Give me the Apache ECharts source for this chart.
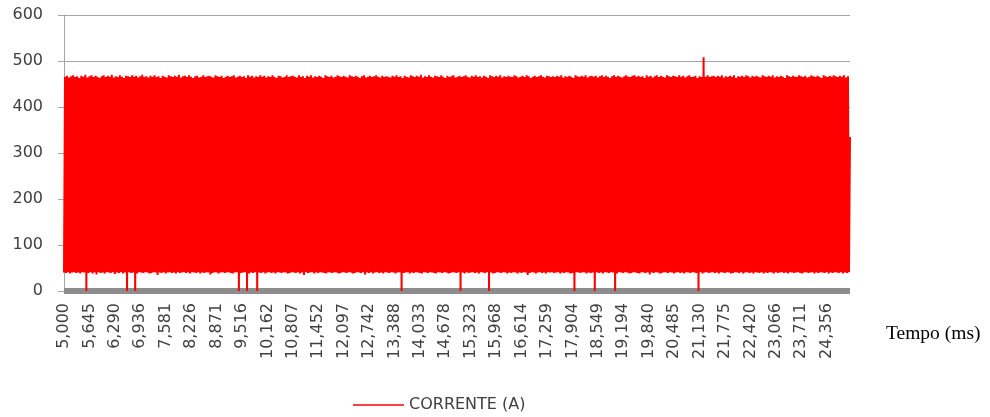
<!DOCTYPE html>
<html>
<head>
<meta charset="utf-8">
<script src="https://cdn.jsdelivr.net/npm/echarts@6/dist/echarts.min.js"></script>
<style>html,body{margin:0;padding:0;background:#fff}#c{width:990px;height:417px}</style>
</head>
<body>
<div id="c"></div>
<script>
// Tick labels on the time axis (ms), one every 25 samples
var tickLabels = ['5,000','5,645','6,290','6,936','7,581','8,226','8,871','9,516','10,162','10,807','11,452','12,097','12,742','13,388','14,033','14,678','15,323','15,968','16,614','17,259','17,904','18,549','19,194','19,840','20,485','21,130','21,775','22,420','23,066','23,711','24,356'];

// Current (A): trough and peak of each oscillation
var troughs = [
40,39,41,38,40,41,39,40,38,41,40,0,39,41,38,40,36,41,39,40,
38,41,40,39,41,37,40,39,41,38,40,0,41,39,40,0,38,41,40,39,
41,40,38,39,41,40,35,40,39,41,38,40,41,39,40,38,41,39,40,41,
39,40,38,41,40,39,41,38,40,39,41,40,36,39,41,40,38,40,41,39,
40,41,39,38,40,41,0,39,40,41,0,38,40,39,41,0,40,39,41,38,
40,41,39,40,38,41,40,39,41,40,38,39,41,40,39,41,38,40,35,41,
39,40,41,38,40,39,41,40,39,38,41,40,39,41,40,38,39,41,40,39,
41,40,38,39,41,40,39,41,36,40,39,41,38,40,41,39,40,38,41,40,
39,41,40,38,40,41,0,39,40,41,38,40,39,41,40,39,38,41,40,39,
41,40,39,38,41,40,39,41,40,38,39,41,40,39,41,0,40,38,41,39,
40,41,39,40,38,41,40,39,41,0,40,38,39,41,40,39,41,40,38,40,
39,41,40,38,40,39,41,40,35,39,41,40,38,40,41,39,40,38,41,40,
41,39,40,41,38,40,39,41,40,38,39,0,41,40,39,41,40,38,40,39,
40,0,41,39,40,38,41,40,39,41,40,0,38,41,40,39,41,40,38,39,
41,40,39,38,41,40,39,41,36,40,39,41,40,38,39,41,40,39,41,40,
38,40,41,39,40,38,41,40,39,41,40,39,0,41,38,40,41,39,40,41,
39,40,38,41,40,39,41,40,38,39,41,40,39,41,38,40,41,39,40,38,
41,40,39,41,38,40,39,41,40,38,41,39,40,41,39,40,38,41,40,39,
40,41,39,38,40,41,39,40,41,38,40,39,41,40,39,41,38,40,39,41,
40,39,41,38,40,39,41];
var peaks = [
466,468,464,467,469,465,467,463,468,466,470,464,467,469,465,468,466,463,467,469,
465,468,466,470,464,467,465,469,466,463,468,467,465,469,466,468,464,467,470,465,
467,464,468,466,469,465,467,463,468,466,464,469,467,465,468,466,470,464,467,468,
465,469,466,463,467,468,464,466,469,465,467,468,466,464,469,467,465,468,463,466,
468,465,467,469,464,466,468,465,467,463,469,466,468,464,467,465,469,466,468,464,
467,465,469,466,463,468,467,464,466,469,465,467,468,466,464,469,465,467,463,468,
466,469,464,467,465,468,466,463,469,467,465,468,464,466,469,467,465,468,466,464,
469,467,465,468,466,463,467,469,464,466,468,465,467,469,466,464,468,465,467,466,
464,468,466,469,465,467,463,468,466,464,469,467,465,468,466,470,464,467,465,469,
466,464,468,467,465,469,466,463,468,465,467,469,464,466,468,465,467,469,466,464,
468,466,469,465,467,464,468,466,463,469,467,465,468,466,469,464,467,465,468,466,
465,469,467,464,466,468,465,469,467,463,466,468,465,467,469,466,464,468,467,465,
467,465,468,466,469,464,467,465,468,466,463,469,467,465,468,466,469,464,467,468,
466,468,464,467,469,465,468,466,463,467,469,465,468,466,464,467,469,466,465,468,
469,466,468,465,467,463,469,466,468,464,467,469,465,468,466,464,469,467,465,468,
467,465,469,466,468,464,467,469,465,466,468,463,467,465,508,466,469,465,467,468,
465,468,466,469,464,467,465,468,466,469,463,467,466,468,465,469,467,464,468,466,
468,466,464,469,467,465,468,466,469,464,467,465,468,466,463,469,467,465,468,466,
466,469,467,465,468,464,466,469,467,465,468,466,463,469,467,465,468,466,469,467,
465,468,466,469,464,467,335];

var values = [];
for (var j = 0; j < troughs.length; j++) { values.push(troughs[j]); values.push(peaks[j]); }
var cats = values.map(function (v, i) { return i % 25 === 0 ? (tickLabels[i / 25] || '') : ''; });

var chart = echarts.init(document.getElementById('c'), null, { renderer: 'canvas' });
chart.setOption({
  animation: false,
  backgroundColor: '#ffffff',
  grid: { left: 64, right: 140, top: 15, bottom: 126, containLabel: false },
  legend: {
    data: ['CORRENTE (A)'], left: 348, top: 392, icon: 'rect', itemWidth: 51, itemHeight: 1.5, itemGap: 6,
    textStyle: { fontFamily: 'DejaVu Sans', fontSize: 16, color: '#404040' }
  },
  xAxis: {
    type: 'category', data: cats, boundaryGap: false, offset: 3,
    axisLine: { lineStyle: { color: '#8c8c8c', width: 6, cap: 'butt' } },
    axisTick: { show: false },
    axisLabel: { interval: 24, rotate: 90, margin: 9, fontFamily: 'DejaVu Sans', fontSize: 16, color: '#404040' },
    splitLine: { show: false }
  },
  yAxis: {
    type: 'value', min: 0, max: 600, interval: 100,
    axisLine: { show: true, lineStyle: { color: '#a6a6a6', width: 1 } },
    axisTick: { show: true, length: 6, lineStyle: { color: '#a6a6a6' } },
    axisLabel: { margin: 21, fontFamily: 'DejaVu Sans', fontSize: 16, color: '#404040' },
    splitLine: { lineStyle: { color: '#a6a6a6', width: 1 } }
  },
  graphic: [{
    type: 'text', left: 886, top: 324,
    style: { text: 'Tempo (ms)', font: '19.5px "Liberation Serif"', fill: '#000' }
  }],
  series: [{
    name: 'CORRENTE (A)', type: 'line', data: values, showSymbol: false, symbol: 'none',
    lineStyle: { color: '#ff0000', width: 2, join: 'bevel' }, itemStyle: { color: '#ff0000' }
  }]
});
</script>
</body>
</html>
